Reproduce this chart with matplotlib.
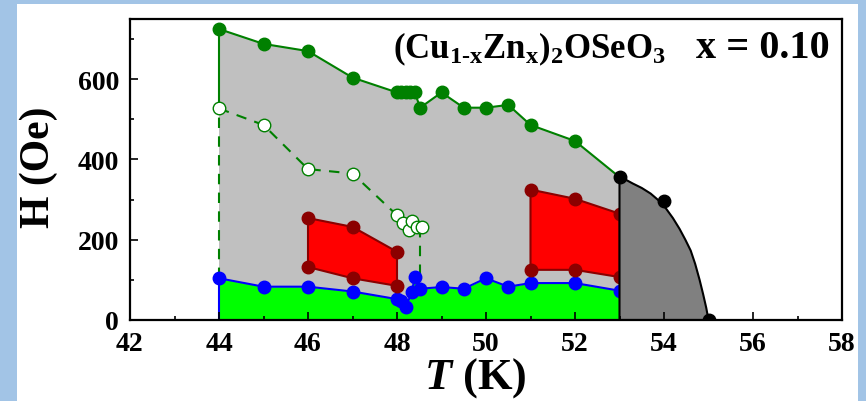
import numpy as np
import matplotlib
matplotlib.use("Agg")
import matplotlib.pyplot as plt
from matplotlib.patches import Rectangle

plt.rcParams['font.family'] = ['Liberation Serif', 'DejaVu Serif']
plt.rcParams['font.weight'] = 'bold'
plt.rcParams['mathtext.fontset'] = 'custom'
plt.rcParams['mathtext.bf'] = 'Liberation Serif:bold'
plt.rcParams['mathtext.rm'] = 'Liberation Serif:bold'
plt.rcParams['mathtext.it'] = 'Liberation Serif:italic:bold'

# upper boundary (filled green circles)
upper_T = [44, 45, 46, 47, 48.0, 48.1, 48.2, 48.3, 48.4, 48.52, 49, 49.5, 50, 50.5, 51, 52, 53]
upper_H = [725, 688, 670, 604, 567, 567, 567, 567, 567, 529, 567, 529, 529, 536, 486, 446, 356]

# open circles, dashed
open_T = [44, 45, 46, 47, 48.0, 48.13, 48.26, 48.33, 48.46, 48.56]
open_H = [527, 486, 376, 365, 261, 242, 225, 247, 232, 232]
open_drop_H = 107   # end of dashed drop at 48.5 K

# lower boundary (blue circles)
blue_T = [44, 45, 46, 47, 48.0, 48.1, 48.2, 48.33, 48.4, 48.52, 49, 49.5, 50, 50.5, 51, 52, 53]
blue_H = [104, 83, 83, 71, 52, 47, 32, 69, 106, 78, 82, 78, 104, 83, 92, 92, 73]

# red pockets
red1_T = [46, 47, 48, 48, 47, 46]
red1_H = [254, 232, 170, 85, 104, 132]
red2_T = [51, 52, 53, 53, 52, 51]
red2_H = [325, 302, 265, 107, 125, 125]

# black points + fitted curve
black_T = [53, 54, 55]
black_H = [356, 296, 0]
curve_T = [53, 53.15, 53.3, 53.5, 53.7, 53.9, 54.05, 54.2, 54.35, 54.48, 54.6, 54.7, 54.8, 54.88, 54.95, 55]
curve_H = [356, 349, 340, 329, 315, 296, 277, 254, 227, 200, 173, 140, 100, 64, 30, 0]

xticks = [42, 44, 46, 48, 50, 52, 54, 56, 58]
yticks = [0, 200, 400, 600]

dgreen = '#008000'
dred = '#8b0000'

fig = plt.figure(figsize=(8.66, 4.02), dpi=100)
fig.patch.set_facecolor('#a2c4e6')
fig.patches.append(Rectangle((17 / 866, 0), 841 / 866, 397 / 402, transform=fig.transFigure,
                             facecolor='white', edgecolor='none', zorder=-5))
ax = fig.add_axes([130 / 866, 1 - 321 / 402, 712 / 866, 301 / 402])
ax.set_facecolor('white')

# fills
ax.fill(np.concatenate([upper_T, blue_T[::-1]]), np.concatenate([upper_H, blue_H[::-1]]),
        color='#c0c0c0', lw=0, zorder=1)
ax.fill_between(blue_T, 0, blue_H, color='#00ff00', lw=0, zorder=1)

# lines
ax.plot([44, 44], [upper_H[0], open_H[0]], color=dgreen, lw=1.5, zorder=2)
ax.plot(upper_T, upper_H, color=dgreen, lw=1.5, zorder=2)
ax.plot([44, 44], [blue_H[0], open_H[0]], color=dgreen, lw=1.5, ls=(0, (5, 4)), zorder=2)
ax.plot(open_T, open_H, color=dgreen, lw=1.5, ls=(0, (5, 4)), zorder=2)
ax.plot([48.52, 48.52], [open_H[-1], open_drop_H], color=dgreen, lw=1.5, ls=(0, (5, 4)), zorder=2)
ax.plot([44, 44], [0, blue_H[0]], color='blue', lw=1.5, zorder=2)
ax.plot(blue_T, blue_H, color='blue', lw=1.5, zorder=2)

# markers
ax.plot(upper_T[:-1], upper_H[:-1], 'o', color=dgreen, ms=9, zorder=3)
ax.plot(open_T, open_H, 'o', mfc='white', mec=dgreen, mew=1, ms=9, zorder=3)
ax.plot(blue_T, blue_H, 'o', color='blue', ms=9, zorder=3)

# red regions
for rt, rh in [(red1_T, red1_H), (red2_T, red2_H)]:
    ax.fill(rt, rh, facecolor='red', edgecolor=dred, lw=1.5, zorder=4)
    ax.plot(rt, rh, 'o', color=dred, ms=9, zorder=4)

# dark grey region
ax.fill(np.concatenate([curve_T, [53]]), np.concatenate([curve_H, [0]]),
        facecolor='#808080', edgecolor='black', lw=1.5, zorder=5)
ax.plot(black_T, black_H, 'o', color='black', ms=9, zorder=6)

ax.set_xlim(42, 58)
ax.set_ylim(0, 750)
ax.set_xticks(xticks)
ax.set_yticks(yticks)
ax.set_xticks(np.arange(43, 58, 2), minor=True)
ax.set_yticks([100, 300, 500, 700], minor=True)
ax.tick_params(which='both', direction='in', top=False, right=False, width=1.2,
               labelsize=20, pad=8)
ax.tick_params(which='major', length=6)
ax.tick_params(which='minor', length=3)
for s in ax.spines.values():
    s.set_linewidth(1.6)
    s.set_zorder(10)
ax.xaxis.set_zorder(10)
ax.yaxis.set_zorder(10)
for lab in ax.get_xticklabels() + ax.get_yticklabels():
    lab.set_fontweight('bold')

ax.set_xlabel(r'$T$ (K)', fontsize=32, fontweight='bold')
ax.xaxis.set_label_coords(0.485, -0.115)
ax.set_ylabel('H (Oe)', fontsize=30, fontweight='bold')
ax.yaxis.set_label_coords(-0.128, 0.51)
ax.yaxis.label.set_verticalalignment('center')
ax.yaxis.label.set_rotation_mode('default')

fig.text(393 / 866, 1 - 58 / 402, r'$\mathbf{(Cu_{1\text{-}x}Zn_{x})_{2}OSeO_{3}}$',
         fontsize=25, ha='left', va='baseline')
fig.text(830 / 866, 1 - 58 / 402, 'x = 0.10', fontsize=29, fontweight='bold',
         ha='right', va='baseline')

fig.savefig('out.png', dpi=100, facecolor=fig.get_facecolor())
